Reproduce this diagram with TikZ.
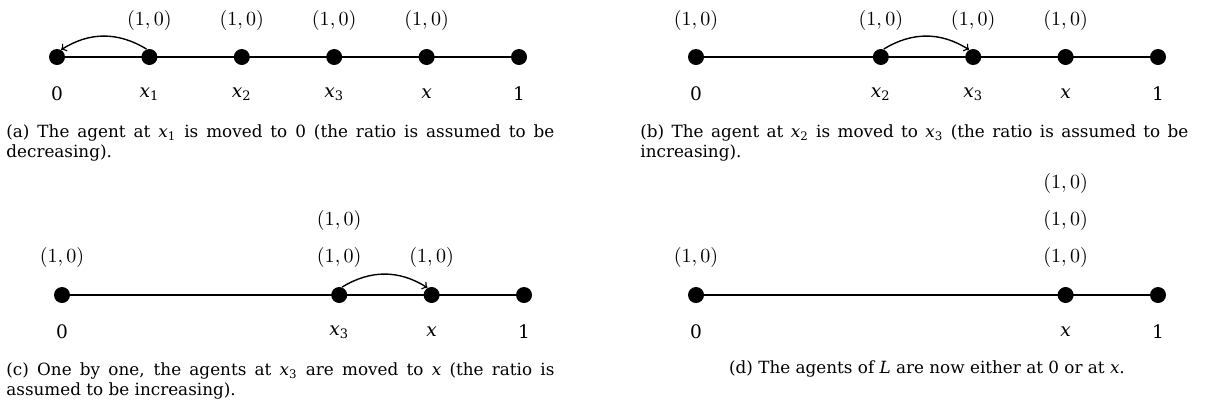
\documentclass[tikz,border=0pt]{standalone}
\usepackage{fontspec}
\setmainfont{DejaVu Serif}
\begin{document}
\begin{tikzpicture}[x=0.5pt,y=-0.5pt]
\tikzset{
  pt/.style={circle,fill=black,inner sep=0pt,minimum size=8pt},
  lab/.style={font=\fontsize{10}{12}\selectfont,inner sep=0pt},
  blab/.style={font=\fontsize{9.3}{11}\selectfont,inner sep=0pt},
  seg/.style={line width=0.8pt},
  mv/.style={->,>=to,line width=0.7pt},
  capt/.style={font=\fontsize{8.4}{10}\selectfont,align=justify,text width=274pt,anchor=north west,inner sep=0pt},
}
\useasboundingbox (0,0) rectangle (1214,409);
\newcommand{\pr}{$(1,0)$}
% ---------- (a)
\coordinate (la) at (57,57);
\coordinate (ra) at (519,57);
\draw[seg] (la) -- (ra);
\node[pt] (a0) at (57,57) {};
\node[pt] (a1) at (149.4,57) {};
\node[pt] (a2) at (241.8,57) {};
\node[pt] (a3) at (334.2,57) {};
\node[pt] (a4) at (426.6,57) {};
\node[pt] (a5) at (519,57) {};
\node[lab] (ta1) at (149.4,20) {\pr};
\node[lab] (ta2) at (241.8,20) {\pr};
\node[lab] (ta3) at (334.2,20) {\pr};
\node[lab] (ta4) at (426.6,20) {\pr};
\node[blab] (ba0) at (57,94) {0};
\node[blab] (ba1) at (149.4,94) {\textit{x}\textsubscript{1}};
\node[blab] (ba2) at (241.8,94) {\textit{x}\textsubscript{2}};
\node[blab] (ba3) at (334.2,94) {\textit{x}\textsubscript{3}};
\node[blab] (ba4) at (426.6,94) {\textit{x}};
\node[blab] (ba5) at (519,94) {1};
\draw[mv] (a1.110) to[bend right=32] (a0.60);
\node[capt] (capa) at (6,124) {(a) The agent at \textit{x}\textsubscript{1} is moved to 0 (the ratio is assumed to be\linebreak decreasing).};
% ---------- (b)
\coordinate (lb) at (696,57);
\coordinate (rb) at (1158,57);
\draw[seg] (lb) -- (rb);
\node[pt] (b0) at (696,57) {};
\node[pt] (b2) at (880.8,57) {};
\node[pt] (b3) at (973.2,57) {};
\node[pt] (b4) at (1065.6,57) {};
\node[pt] (b5) at (1158,57) {};
\node[lab] (tb0) at (696,20) {\pr};
\node[lab] (tb2) at (880.8,20) {\pr};
\node[lab] (tb3) at (973.2,20) {\pr};
\node[lab] (tb4) at (1065.6,20) {\pr};
\node[blab] (bb0) at (696,94) {0};
\node[blab] (bb2) at (880.8,94) {\textit{x}\textsubscript{2}};
\node[blab] (bb3) at (973.2,94) {\textit{x}\textsubscript{3}};
\node[blab] (bb4) at (1065.6,94) {\textit{x}};
\node[blab] (bb5) at (1158,94) {1};
\draw[mv] (b2.70) to[bend left=32] (b3.120);
\node[capt] (capb) at (640,124) {(b) The agent at \textit{x}\textsubscript{2} is moved to \textit{x}\textsubscript{3} (the ratio is assumed to be\linebreak increasing).};
% ---------- (c)
\coordinate (lc) at (62,295);
\coordinate (rc) at (524,295);
\draw[seg] (lc) -- (rc);
\node[pt] (c0) at (62,295) {};
\node[pt] (c3) at (339.2,295) {};
\node[pt] (c4) at (431.6,295) {};
\node[pt] (c5) at (524,295) {};
\node[lab] (tc0) at (62,257) {\pr};
\node[lab] (tc3) at (339.2,257) {\pr};
\node[lab] (tc3b) at (339.2,220) {\pr};
\node[lab] (tc4) at (431.6,257) {\pr};
\node[blab] (bc0) at (62,332) {0};
\node[blab] (bc3) at (339.2,332) {\textit{x}\textsubscript{3}};
\node[blab] (bc4) at (431.6,332) {\textit{x}};
\node[blab] (bc5) at (524,332) {1};
\draw[mv] (c3.70) to[bend left=32] (c4.120);
\node[capt] (capc) at (6,362) {(c) One by one, the agents at \textit{x}\textsubscript{3} are moved to \textit{x} (the ratio is\linebreak assumed to be increasing).};
% ---------- (d)
\coordinate (ld) at (696,295);
\coordinate (rd) at (1158,295);
\draw[seg] (ld) -- (rd);
\node[pt] (d0) at (696,295) {};
\node[pt] (d4) at (1065.6,295) {};
\node[pt] (d5) at (1158,295) {};
\node[lab] (td0) at (696,257) {\pr};
\node[lab] (td4) at (1065.6,257) {\pr};
\node[lab] (td4b) at (1065.6,220) {\pr};
\node[lab] (td4c) at (1065.6,183) {\pr};
\node[blab] (bd0) at (696,332) {0};
\node[blab] (bd4) at (1065.6,332) {\textit{x}};
\node[blab] (bd5) at (1158,332) {1};
\node[font=\fontsize{8.4}{10}\selectfont,inner sep=0pt] (capd) at (927,369) {(d) The agents of \textit{L} are now either at 0 or at \textit{x}.};
\end{tikzpicture}
\end{document}
